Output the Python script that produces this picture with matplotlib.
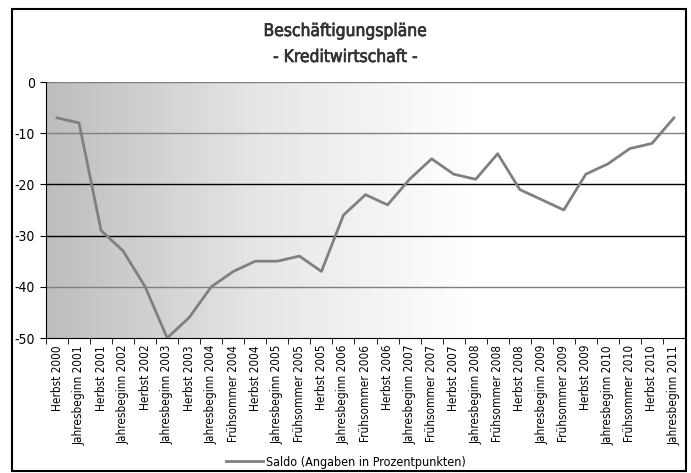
import numpy as np
import matplotlib.pyplot as plt
import matplotlib.patheffects as pe
from matplotlib.colors import LinearSegmentedColormap
from matplotlib.patches import Rectangle

labels = ['Herbst 2000', 'Jahresbeginn 2001', 'Herbst 2001', 'Jahresbeginn 2002', 'Herbst 2002',
          'Jahresbeginn 2003', 'Herbst 2003', 'Jahresbeginn 2004', 'Frühsommer 2004', 'Herbst 2004',
          'Jahresbeginn 2005', 'Frühsommer 2005', 'Herbst 2005', 'Jahresbeginn 2006', 'Frühsommer 2006',
          'Herbst 2006', 'Jahresbeginn 2007', 'Frühsommer 2007', 'Herbst 2007', 'Jahresbeginn 2008',
          'Frühsommer 2008', 'Herbst 2008', 'Jahresbeginn 2009', 'Frühsommer 2009', 'Herbst 2009',
          'Jahresbeginn 2010', 'Frühsommer 2010', 'Herbst 2010', 'Jahresbeginn 2011']
saldo = [-7, -8, -29, -33, -40, -50, -46, -40, -37, -35, -35, -34, -37, -26, -22,
         -24, -19, -15, -18, -19, -14, -21, -23, -25, -18, -16, -13, -12, -7]
yticks = [0, -10, -20, -30, -40, -50]

plt.rcParams['font.family'] = ['DejaVu Sans']
plt.rcParams['font.stretch'] = 'condensed'

W, H = 691, 473
fig = plt.figure(figsize=(W / 100, H / 100), dpi=100)
ax = fig.add_axes([46 / W, 1 - 338 / H, (685 - 46) / W, (338 - 82) / H])

n = len(saldo)
x = np.arange(n)
ax.set_xlim(-0.5, n - 0.5)
ax.set_ylim(-50, 0)

# horizontal gradient background
grad = np.linspace(0, 1, 256).reshape(1, -1)
cmap = LinearSegmentedColormap.from_list('bg', ['#bdbdbd', '#e6e6e6', '#ffffff', '#ffffff'])
ax.imshow(grad, aspect='auto', cmap=cmap, extent=(-0.5, n - 0.5, -50, 0), zorder=0)

grid_cols = {-10: '#808080', -20: '#000000', -30: '#000000', -40: '#808080', 0: '#808080'}
for yv, c in grid_cols.items():
    ax.axhline(yv, color=c, lw=1, zorder=1)

ax.plot(x, saldo, color='#808080', lw=2, zorder=3, label='Saldo (Angaben in Prozentpunkten)')

ax.set_yticks(yticks)
ax.set_yticklabels([str(v) for v in yticks], fontsize=10)
ax.set_xticks(x)
ax.set_xticklabels(labels, rotation=90, fontsize=8.5)
ax.set_xticks(np.arange(-0.5, n, 1), minor=True)
ax.tick_params(axis='x', which='major', length=0, pad=5)
ax.tick_params(axis='x', which='minor', length=4, color='black', direction='out')
ax.tick_params(axis='y', length=4, color='black', direction='out', pad=4)

ax.spines['top'].set_visible(False)
ax.spines['right'].set_visible(False)
ax.spines['left'].set_color('#000000')
ax.spines['bottom'].set_color('#000000')

medium = [pe.withStroke(linewidth=0.5, foreground='#333333')]
fig.text(0.5, 1 - 31 / H, 'Beschäftigungspläne', ha='center', va='center', fontsize=12.5,
         color='#333333', path_effects=medium)
fig.text(0.5, 1 - 57 / H, '- Kreditwirtschaft -', ha='center', va='center', fontsize=12.5,
         color='#333333', path_effects=medium)

leg = fig.legend(loc='center', bbox_to_anchor=(0.5, 1 - 462 / H), frameon=False, fontsize=9,
                 handlelength=3.0, handletextpad=0.2)

# outer frame
fig.patches.append(Rectangle((12 / W, 1 - 471 / H), (686 - 12) / W, (471 - 9) / H,
                             transform=fig.transFigure, fill=False, edgecolor='black', lw=1.5))

fig.savefig('out.png', dpi=100)
